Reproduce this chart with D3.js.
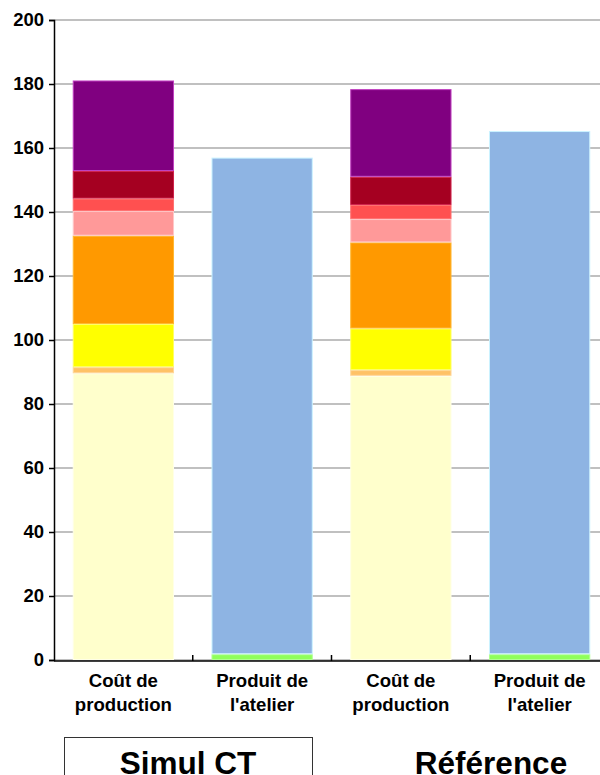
<!DOCTYPE html>
<html>
<head>
<meta charset="utf-8">
<script src="https://cdn.jsdelivr.net/npm/d3@7"></script>
<style>
  body { margin: 0; background: #fff; }
  svg { display: block; font-family: "Liberation Sans", Arial, sans-serif; }
</style>
</head>
<body>
<script>
// Bars, left to right
const barKeys = ["simul-cout", "simul-produit", "ref-cout", "ref-produit"];
const barLabels = [["Coût de", "production"], ["Produit de", "l'atelier"], ["Coût de", "production"], ["Produit de", "l'atelier"]];
const groupLabels = ["Simul CT", "Référence"];

// Cost segments (bottom to top)
const coutSimul = [89.6, 1.9, 13.5, 27.6, 7.7, 3.9, 8.6, 28.3];
const coutRef = [88.8, 1.8, 13.0, 26.9, 7.3, 4.4, 8.8, 27.4];
// Product segments (bottom to top)
const produitSimul = [1.8, 155.2];
const produitRef = [1.8, 163.5];

const yTicks = [0, 20, 40, 60, 80, 100, 120, 140, 160, 180, 200];

const coutColors = ["#FFFFCC", "#FFC266", "#FFFF00", "#FF9900", "#FF9999", "#FF5050", "#A50021", "#800080"];
const coutStrokes = ["#FFFFE6", "#FFD699", "#FFFF66", "#FFB833", "#FFC8C8", "#FF7070", "#D0204A", "#C040C0"];
const produitColors = ["#8FFF5A", "#8EB4E3"];
const produitStrokes = ["#B0FF90", "#CCF2FF"];

const width = 600, height = 775;
const margin = {top: 20, left: 54, bottom: 115};

const svg = d3.select("body").append("svg")
  .attr("width", width)
  .attr("height", height);

const x = d3.scaleBand()
  .domain(barKeys)
  .range([margin.left, 609])
  .paddingInner(0.27)
  .paddingOuter(0.135);

const y = d3.scaleLinear()
  .domain([0, 200])
  .range([height - margin.bottom, margin.top]);

// Gridlines
svg.append("g")
  .selectAll("line")
  .data(yTicks)
  .join("line")
  .attr("x1", margin.left)
  .attr("x2", width)
  .attr("y1", d => y(d))
  .attr("y2", d => y(d))
  .attr("stroke", "#C0C0C0")
  .attr("stroke-width", 2);

// Segments
const barData = [
  {key: "simul-cout", values: coutSimul, fill: coutColors, stroke: coutStrokes},
  {key: "simul-produit", values: produitSimul, fill: produitColors, stroke: produitStrokes},
  {key: "ref-cout", values: coutRef, fill: coutColors, stroke: coutStrokes},
  {key: "ref-produit", values: produitRef, fill: produitColors, stroke: produitStrokes},
];

const segments = barData.flatMap(b => {
  const tops = d3.cumsum(b.values);
  return b.values.map((v, i) => ({
    key: b.key, y0: tops[i] - v, y1: tops[i], fill: b.fill[i], stroke: b.stroke[i]
  }));
});

svg.append("g")
  .selectAll("rect")
  .data(segments)
  .join("rect")
  .attr("x", d => x(d.key) + 0.5)
  .attr("width", x.bandwidth() - 1)
  .attr("y", d => y(d.y1) + 0.5)
  .attr("height", d => Math.max(0, y(d.y0) - y(d.y1) - 1))
  .attr("fill", d => d.fill)
  .attr("stroke", d => d.stroke)
  .attr("stroke-width", 1);

// Left axis
const yAxis = svg.append("g")
  .attr("transform", `translate(${margin.left},0)`)
  .call(d3.axisLeft(y).tickValues(yTicks).tickSize(5).tickPadding(5));
yAxis.select(".domain").attr("stroke", "#000").attr("stroke-width", 1.5);
yAxis.selectAll(".tick line").attr("stroke", "#000").attr("stroke-width", 1.5);
yAxis.selectAll(".tick text")
  .attr("font-size", 18.5)
  .attr("font-weight", "bold")
  .attr("font-family", "Liberation Sans, Arial, sans-serif")
  .attr("fill", "#000");

// Bottom axis line and separator ticks
const base = y(0);
svg.append("line")
  .attr("x1", margin.left).attr("x2", width)
  .attr("y1", base + 1).attr("y2", base + 1)
  .attr("stroke", "#000").attr("stroke-width", 1.5);

const step = x.step();
svg.append("g")
  .selectAll("line")
  .data(barKeys.slice(1))
  .join("line")
  .attr("x1", d => x(d) - step * x.paddingInner() / 2)
  .attr("x2", d => x(d) - step * x.paddingInner() / 2)
  .attr("y1", base + 1)
  .attr("y2", base - 5)
  .attr("stroke", "#000")
  .attr("stroke-width", 1.5);

// Category labels
const labels = svg.append("g")
  .selectAll("text")
  .data(barKeys)
  .join("text")
  .attr("x", d => x(d) + x.bandwidth() / 2)
  .attr("y", base + 27)
  .attr("text-anchor", "middle")
  .attr("font-size", 18.6)
  .attr("font-weight", "bold")
  .attr("fill", "#000");
labels.each(function(d, i) {
  const t = d3.select(this);
  barLabels[i].forEach((line, j) => {
    t.append("tspan")
      .attr("x", x(d) + x.bandwidth() / 2)
      .attr("dy", j === 0 ? 0 : 24)
      .text(line);
  });
});

// Group labels (cut at the bottom edge, as in the original)
svg.append("rect")
  .attr("x", 64.5).attr("y", 737.5)
  .attr("width", 248).attr("height", 50)
  .attr("fill", "none")
  .attr("stroke", "#333")
  .attr("stroke-width", 1);

svg.append("g")
  .selectAll("text")
  .data(groupLabels)
  .join("text")
  .attr("x", (d, i) => i === 0 ? 188 : 491)
  .attr("y", 774)
  .attr("text-anchor", "middle")
  .attr("font-size", 31.5)
  .attr("font-weight", "bold")
  .attr("fill", "#000")
  .text(d => d);
</script>
</body>
</html>
